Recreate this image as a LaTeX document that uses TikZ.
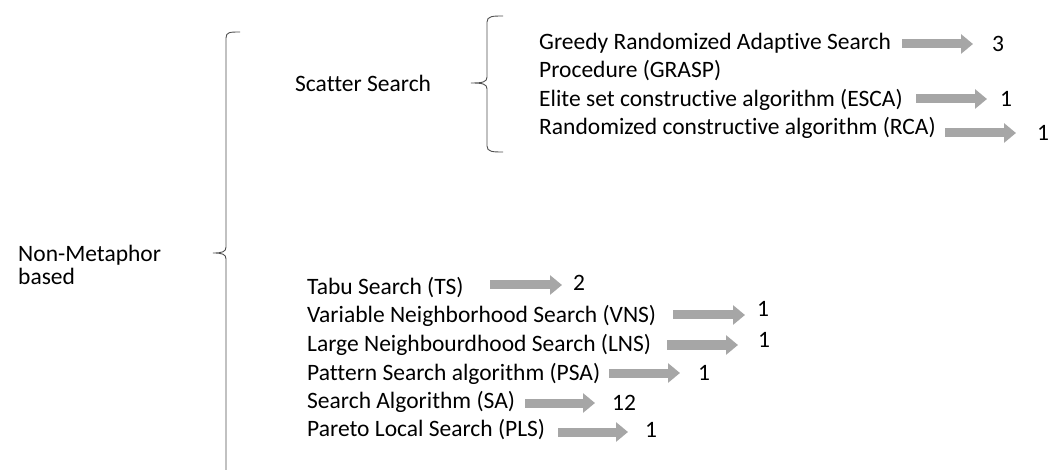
\documentclass[tikz,border=0pt]{standalone}
\usepackage{fontspec}
\setmainfont{Carlito}[Ligatures=NoCommon]
\usetikzlibrary{arrows.meta}
\definecolor{arrowgray}{RGB}{166,166,166}
\definecolor{bracegray}{RGB}{80,80,80}

\begin{document}
\begin{tikzpicture}[x=1pt,y=-1pt,
    lbl/.style={anchor=base west,inner sep=0pt,font=\fontsize{23.5}{23}\selectfont},
    blockarrow/.style={draw=arrowgray,line width=9pt,-{Triangle[length=12pt,width=19pt]}},
    brace/.style={draw=bracegray,line width=0.9pt}]
    \useasboundingbox (0,0) rectangle (1063,470);

    % root and the two braces
    \node[lbl,align=left] (root) at (18,285) {Non-Metaphor\\based};
    \draw[brace] (240,32) .. controls (230,32) and (226,32) .. (226,38) -- (226,247)
        .. controls (226,252) and (222,253) .. (213,253) .. controls (222,253) and (226,254) .. (226,259) -- (226,472);
    \node[lbl] (scatter) at (295,92) {Scatter Search};
    \draw[brace] (503,16) .. controls (493,16) and (487,16) .. (487,22) -- (487,77)
        .. controls (487,82) and (483,83) .. (471,83) .. controls (483,83) and (487,84) .. (487,89) -- (487,146)
        .. controls (487,152) and (493,152) .. (503,152);

    % scatter search branch
    \node[lbl,align=left] (grasp) at (539,78) {Greedy Randomized Adaptive Search\\[5pt]Procedure (GRASP)};
    \node[lbl] (esca) at (539,107) {Elite set constructive algorithm (ESCA)};
    \node[lbl] (rca) at (539,135) {Randomized constructive algorithm (RCA)};
    \node[lbl] (n-grasp) at (992,52) {3};
    \node[lbl] (n-esca) at (1000,107) {1};
    \node[lbl] (n-rca) at (1037,141) {1};
    \coordinate (a-grasp) at (902,44);
    \coordinate (a-esca) at (916,99);
    \coordinate (a-rca) at (945,133);
    \draw[blockarrow] (a-grasp) -- ++(71,0);
    \draw[blockarrow] (a-esca) -- ++(71,0);
    \draw[blockarrow] (a-rca) -- ++(71,0);

    % local search branch
    \node[lbl] (ts) at (307,295) {Tabu Search (TS)};
    \node[lbl] (vns) at (307,323) {Variable Neighborhood Search (VNS)};
    \node[lbl] (lns) at (307,352) {Large Neighbourdhood Search (LNS)};
    \node[lbl] (psa) at (307,380) {Pattern Search algorithm (PSA)};
    \node[lbl] (sa) at (307,408) {Search Algorithm (SA)};
    \node[lbl] (pls) at (307,436) {Pareto Local Search (PLS)};
    \node[lbl] (n-ts) at (573,291) {2};
    \node[lbl] (n-vns) at (757,317) {1};
    \node[lbl] (n-lns) at (758,348) {1};
    \node[lbl] (n-psa) at (698,380) {1};
    \node[lbl] (n-sa) at (612,410) {12};
    \node[lbl] (n-pls) at (645,437) {1};
    \coordinate (a-ts) at (490,285);
    \coordinate (a-vns) at (673,315);
    \coordinate (a-lns) at (667,345);
    \coordinate (a-psa) at (609,373);
    \coordinate (a-sa) at (525,403);
    \coordinate (a-pls) at (558,432);
    \draw[blockarrow] (a-ts) -- ++(72,0);
    \draw[blockarrow] (a-vns) -- ++(72,0);
    \draw[blockarrow] (a-lns) -- ++(71,0);
    \draw[blockarrow] (a-psa) -- ++(71,0);
    \draw[blockarrow] (a-sa) -- ++(70,0);
    \draw[blockarrow] (a-pls) -- ++(70,0);
\end{tikzpicture}
\end{document}
